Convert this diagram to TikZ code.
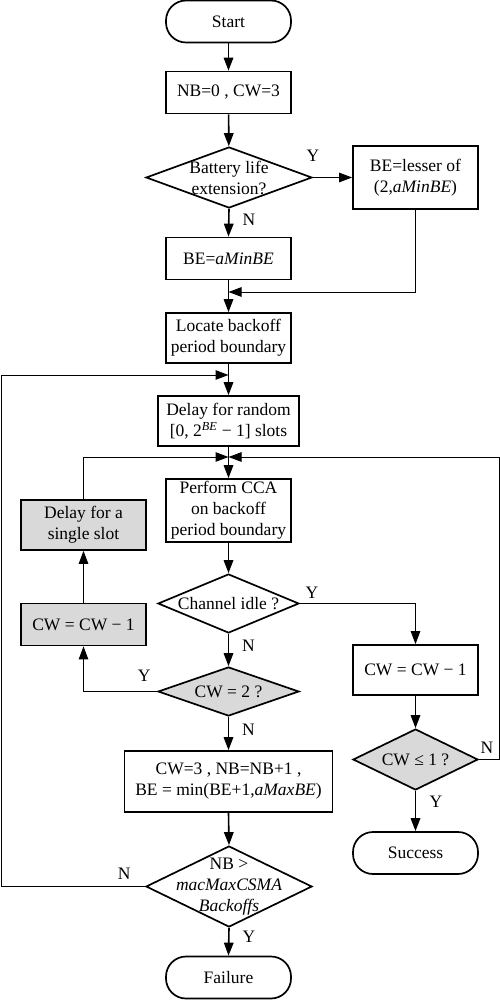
\documentclass[tikz,border=0pt]{standalone}
\usepackage{fontspec}
\setmainfont{Liberation Serif}
\usepackage{tikz}
\usetikzlibrary{shapes.geometric}
\usetikzlibrary{arrows.meta,calc}
\definecolor{boxgray}{RGB}{217,217,217}
\tikzstyle{decision} = [diamond, draw, line width=1.7pt, inner sep=0pt, minimum width=166pt, minimum height=61pt]
\tikzstyle{block} = [rectangle, draw, line width=1.7pt, align=center, inner sep=0pt, minimum width=125pt, minimum height=42pt]
\tikzstyle{terminal} = [block, rounded corners=20pt]
\tikzstyle{shaded} = [fill=boxgray]
\tikzstyle{line} = [draw, line width=1.6pt, -{Triangle[length=13pt,width=9.5pt]}]
\tikzstyle{thinline} = [draw, line width=1pt, -{Triangle[length=13pt,width=9.5pt]}]
\tikzstyle{lab} = [inner sep=0pt]

\begin{document}
\begin{tikzpicture}[x=1pt,y=-1pt,font=\fontsize{17.5}{21}\selectfont]
    \useasboundingbox (0,0) rectangle (500,1000);
    % Place nodes
    \node [terminal] (start) at (228.5,21.5) {Start};
    \node [block] (init) at (228.5,92.5) {NB=0 , CW=3};
    \node [decision, label={[align=center]center:Battery life\\extension?}] (battery) at (229,177.5) {};
    \node [block, minimum height=63pt] (lesser) at (415.5,177.5) {BE=lesser of\\(2,\textit{aMinBE})};
    \node [block] (minbe) at (228.5,258.5) {BE=\textit{aMinBE}};
    \node [block, minimum height=50pt] (locate) at (228.5,338) {Locate backoff\\period boundary};
    \node [block, minimum width=141pt, minimum height=50pt] (delay) at (228.5,421) {Delay for random\\{}[0, 2\textsuperscript{\textit{BE}} − 1] slots};
    \node [block, minimum height=63pt] (cca) at (228.5,510.5) {Perform CCA\\on backoff\\period boundary};
    \node [block, shaded, minimum height=50pt] (slot) at (83.5,525) {Delay for a\\single slot};
    \node [decision, minimum width=141pt, minimum height=59pt, label={center:Channel idle ?}] (idle) at (228.5,603.5) {};
    \node [block, shaded] (cwleft) at (83.5,624.5) {CW = CW − 1};
    \node [block, minimum height=50pt] (cwright) at (415.5,670) {CW = CW − 1};
    \node [decision, shaded, minimum width=141pt, minimum height=49pt, label={center:CW = 2 ?}] (cwtwo) at (228.5,691.5) {};
    \node [decision, shaded, minimum width=125pt, label={center:CW ≤ 1 ?}] (cwle) at (415.5,759.5) {};
    \node [block, minimum width=208pt, minimum height=61pt] (reset) at (228.5,781.5) {CW=3 , NB=NB+1 ,\\BE = min(BE+1,\textit{aMaxBE})};
    \node [terminal] (success) at (415.5,853) {Success};
    \node [decision, minimum height=81pt, label={[align=center]center:NB >\\\textit{macMaxCSMA}\\\textit{Backoffs}}] (nbmax) at (229,886.5) {};
    \node [terminal] (failure) at (228.5,977.5) {Failure};

    \coordinate (join1) at (228.5,292);
    \coordinate (join2) at (228.5,375);
    \coordinate (join3) at (228.5,457);

    % Draw edges
    \path [line] (start) -- (init);
    \path [line] (init) -- (battery);
    \path [thinline] (battery.east) -- (lesser.west);
    \path [line] (battery.south) -- (minbe.north);
    \path [line] (minbe.south) -- (locate.north);
    \path [thinline] (lesser.south) |- (join1);
    \path [line] (locate.south) -- (delay.north);
    \path [line] (delay.south) -- (cca.north);
    \path [line] (cca.south) -- (idle.north);
    \path [thinline] (idle.east) -| (cwright.north);
    \path [line] (idle.south) -- (cwtwo.north);
    \path [thinline] (cwtwo.west) -| (cwleft.south);
    \path [thinline] (cwleft.north) -- (slot.south);
    \path [thinline] (slot.north) |- (join3);
    \path [line] (cwtwo.south) -- (reset.north);
    \path [line] (reset.south) -- (nbmax.north);
    \path [thinline] (nbmax.west) -- (1,886.5) |- (join2);
    \path [line] (nbmax.south) -- (failure.north);
    \path [line] (cwright.south) -- (cwle.north);
    \path [thinline] (cwle.east) -- (499,759.5) |- (join3);
    \path [line] (cwle.south) -- (success.north);

    % Branch labels
    \node [lab] at ([shift={(0,-21.5)}]battery.east) {Y};
    \node [lab] at ([shift={(20,11)}]battery.south) {N};
    \node [lab] at ([shift={(12,-10.5)}]idle.east) {Y};
    \node [lab] at ([shift={(20,12)}]idle.south) {N};
    \node [lab] at ([shift={(-13,-15.5)}]cwtwo.west) {Y};
    \node [lab] at ([shift={(20,13)}]cwtwo.south) {N};
    \node [lab] at ([shift={(-21,-12.5)}]nbmax.west) {N};
    \node [lab] at ([shift={(20,9)}]nbmax.south) {Y};
    \node [lab] at ([shift={(8,-11.5)}]cwle.east) {N};
    \node [lab] at ([shift={(20.5,11)}]cwle.south) {Y};
\end{tikzpicture}
\end{document}
